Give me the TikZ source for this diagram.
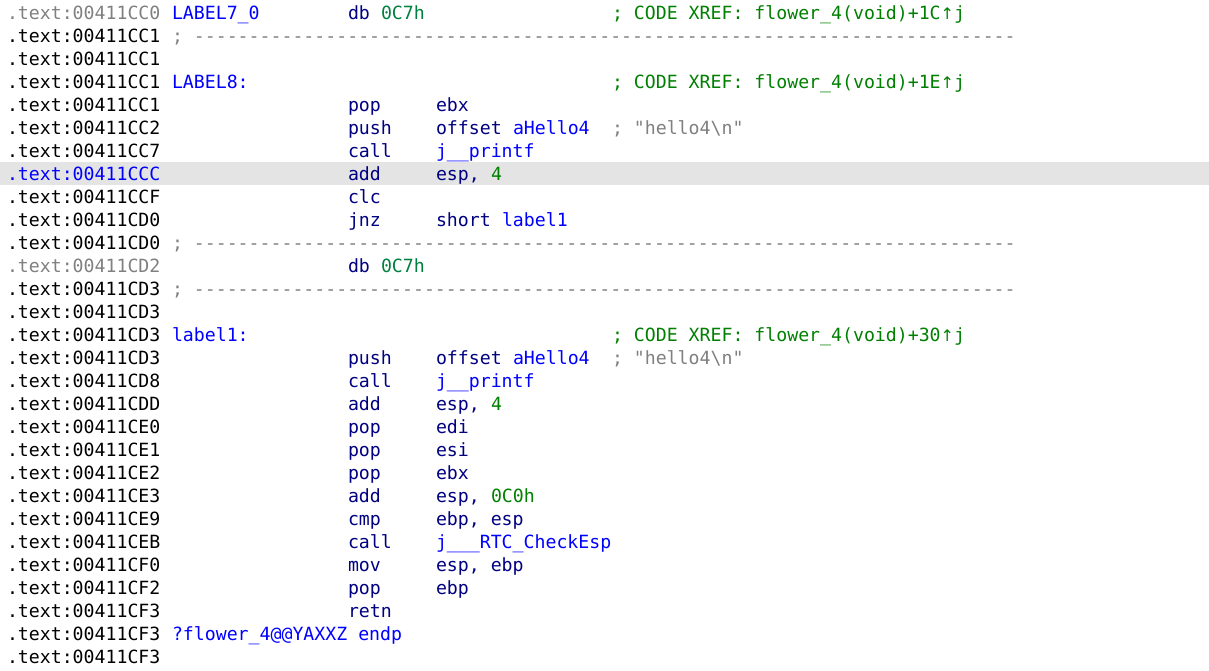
\documentclass[tikz,border=0pt]{standalone}
\usepackage{fontspec}
\setmonofont{DejaVu Sans Mono}
\newfontfamily\arrowfont{DejaVu Sans}
\definecolor{idaaddr}{HTML}{000000}
\definecolor{idagrey}{HTML}{808080}
\definecolor{idablue}{HTML}{0000FF}
\definecolor{idanavy}{HTML}{000080}
\definecolor{idagreen}{HTML}{008000}
\definecolor{idanum}{HTML}{008040}
\definecolor{idahl}{HTML}{E4E4E4}
\newcommand\tx[4]{\node[txt,text=#3,anchor=base west] (r#2c#1) at ({7+#1*11},{-(19+#2*23)}) {#4};}
\newcommand\addr[3]{\tx{0}{#1}{#2}{.text:00411#3}}
\newcommand\dashline[1]{\tx{15}{#1}{idagrey}{; ---------------------------------------------------------------------------}}
\newcommand\uparr{{\arrowfont\fontsize{16}{23}\selectfont ↑}}
\begin{document}
\begin{tikzpicture}[x=1pt,y=1pt,
  txt/.style={inner sep=0pt,outer sep=0pt,font=\ttfamily\fontsize{18.2}{23}\selectfont}]
\fill[white] (0,0) rectangle (1209,-670);
\useasboundingbox (0,0) rectangle (1209,-670);
\fill[idahl] (0,-162) rectangle (1209,-185);
% row 0
\addr{0}{idagrey}{CC0}
\tx{15}{0}{idablue}{LABEL7\_0}
\tx{31}{0}{idanavy}{db}
\tx{34}{0}{idanum}{0C7h}
\tx{55}{0}{idagreen}{; CODE XREF: flower\_4(void)+1C\uparr j}
% row 1
\addr{1}{idaaddr}{CC1}
\dashline{1}
\addr{2}{idaaddr}{CC1}
% row 3
\addr{3}{idaaddr}{CC1}
\tx{15}{3}{idablue}{LABEL8:}
\tx{55}{3}{idagreen}{; CODE XREF: flower\_4(void)+1E\uparr j}
% row 4
\addr{4}{idaaddr}{CC1}
\tx{31}{4}{idanavy}{pop}
\tx{39}{4}{idanavy}{ebx}
% row 5
\addr{5}{idaaddr}{CC2}
\tx{31}{5}{idanavy}{push}
\tx{39}{5}{idanavy}{offset}
\tx{46}{5}{idablue}{aHello4}
\tx{55}{5}{idagrey}{; "hello4\textbackslash n"}
% row 6
\addr{6}{idaaddr}{CC7}
\tx{31}{6}{idanavy}{call}
\tx{39}{6}{idablue}{j\_\_printf}
% row 7
\addr{7}{idablue}{CCC}
\tx{31}{7}{idanavy}{add}
\tx{39}{7}{idanavy}{esp,}
\tx{44}{7}{idagreen}{4}
% row 8
\addr{8}{idaaddr}{CCF}
\tx{31}{8}{idanavy}{clc}
% row 9
\addr{9}{idaaddr}{CD0}
\tx{31}{9}{idanavy}{jnz}
\tx{39}{9}{idanavy}{short}
\tx{45}{9}{idablue}{label1}
% row 10
\addr{10}{idaaddr}{CD0}
\dashline{10}
% row 11
\addr{11}{idagrey}{CD2}
\tx{31}{11}{idanavy}{db}
\tx{34}{11}{idanum}{0C7h}
% row 12
\addr{12}{idaaddr}{CD3}
\dashline{12}
\addr{13}{idaaddr}{CD3}
% row 14
\addr{14}{idaaddr}{CD3}
\tx{15}{14}{idablue}{label1:}
\tx{55}{14}{idagreen}{; CODE XREF: flower\_4(void)+30\uparr j}
% row 15
\addr{15}{idaaddr}{CD3}
\tx{31}{15}{idanavy}{push}
\tx{39}{15}{idanavy}{offset}
\tx{46}{15}{idablue}{aHello4}
\tx{55}{15}{idagrey}{; "hello4\textbackslash n"}
% row 16
\addr{16}{idaaddr}{CD8}
\tx{31}{16}{idanavy}{call}
\tx{39}{16}{idablue}{j\_\_printf}
% row 17
\addr{17}{idaaddr}{CDD}
\tx{31}{17}{idanavy}{add}
\tx{39}{17}{idanavy}{esp,}
\tx{44}{17}{idagreen}{4}
% row 18
\addr{18}{idaaddr}{CE0}
\tx{31}{18}{idanavy}{pop}
\tx{39}{18}{idanavy}{edi}
\addr{19}{idaaddr}{CE1}
\tx{31}{19}{idanavy}{pop}
\tx{39}{19}{idanavy}{esi}
\addr{20}{idaaddr}{CE2}
\tx{31}{20}{idanavy}{pop}
\tx{39}{20}{idanavy}{ebx}
% row 21
\addr{21}{idaaddr}{CE3}
\tx{31}{21}{idanavy}{add}
\tx{39}{21}{idanavy}{esp,}
\tx{44}{21}{idagreen}{0C0h}
% row 22
\addr{22}{idaaddr}{CE9}
\tx{31}{22}{idanavy}{cmp}
\tx{39}{22}{idanavy}{ebp, esp}
% row 23
\addr{23}{idaaddr}{CEB}
\tx{31}{23}{idanavy}{call}
\tx{39}{23}{idablue}{j\_\_\_RTC\_CheckEsp}
% row 24
\addr{24}{idaaddr}{CF0}
\tx{31}{24}{idanavy}{mov}
\tx{39}{24}{idanavy}{esp, ebp}
\addr{25}{idaaddr}{CF2}
\tx{31}{25}{idanavy}{pop}
\tx{39}{25}{idanavy}{ebp}
\addr{26}{idaaddr}{CF3}
\tx{31}{26}{idanavy}{retn}
\addr{27}{idaaddr}{CF3}
\tx{15}{27}{idablue}{?flower\_4@@YAXXZ endp}
\addr{28}{idaaddr}{CF3}
\end{tikzpicture}
\end{document}
